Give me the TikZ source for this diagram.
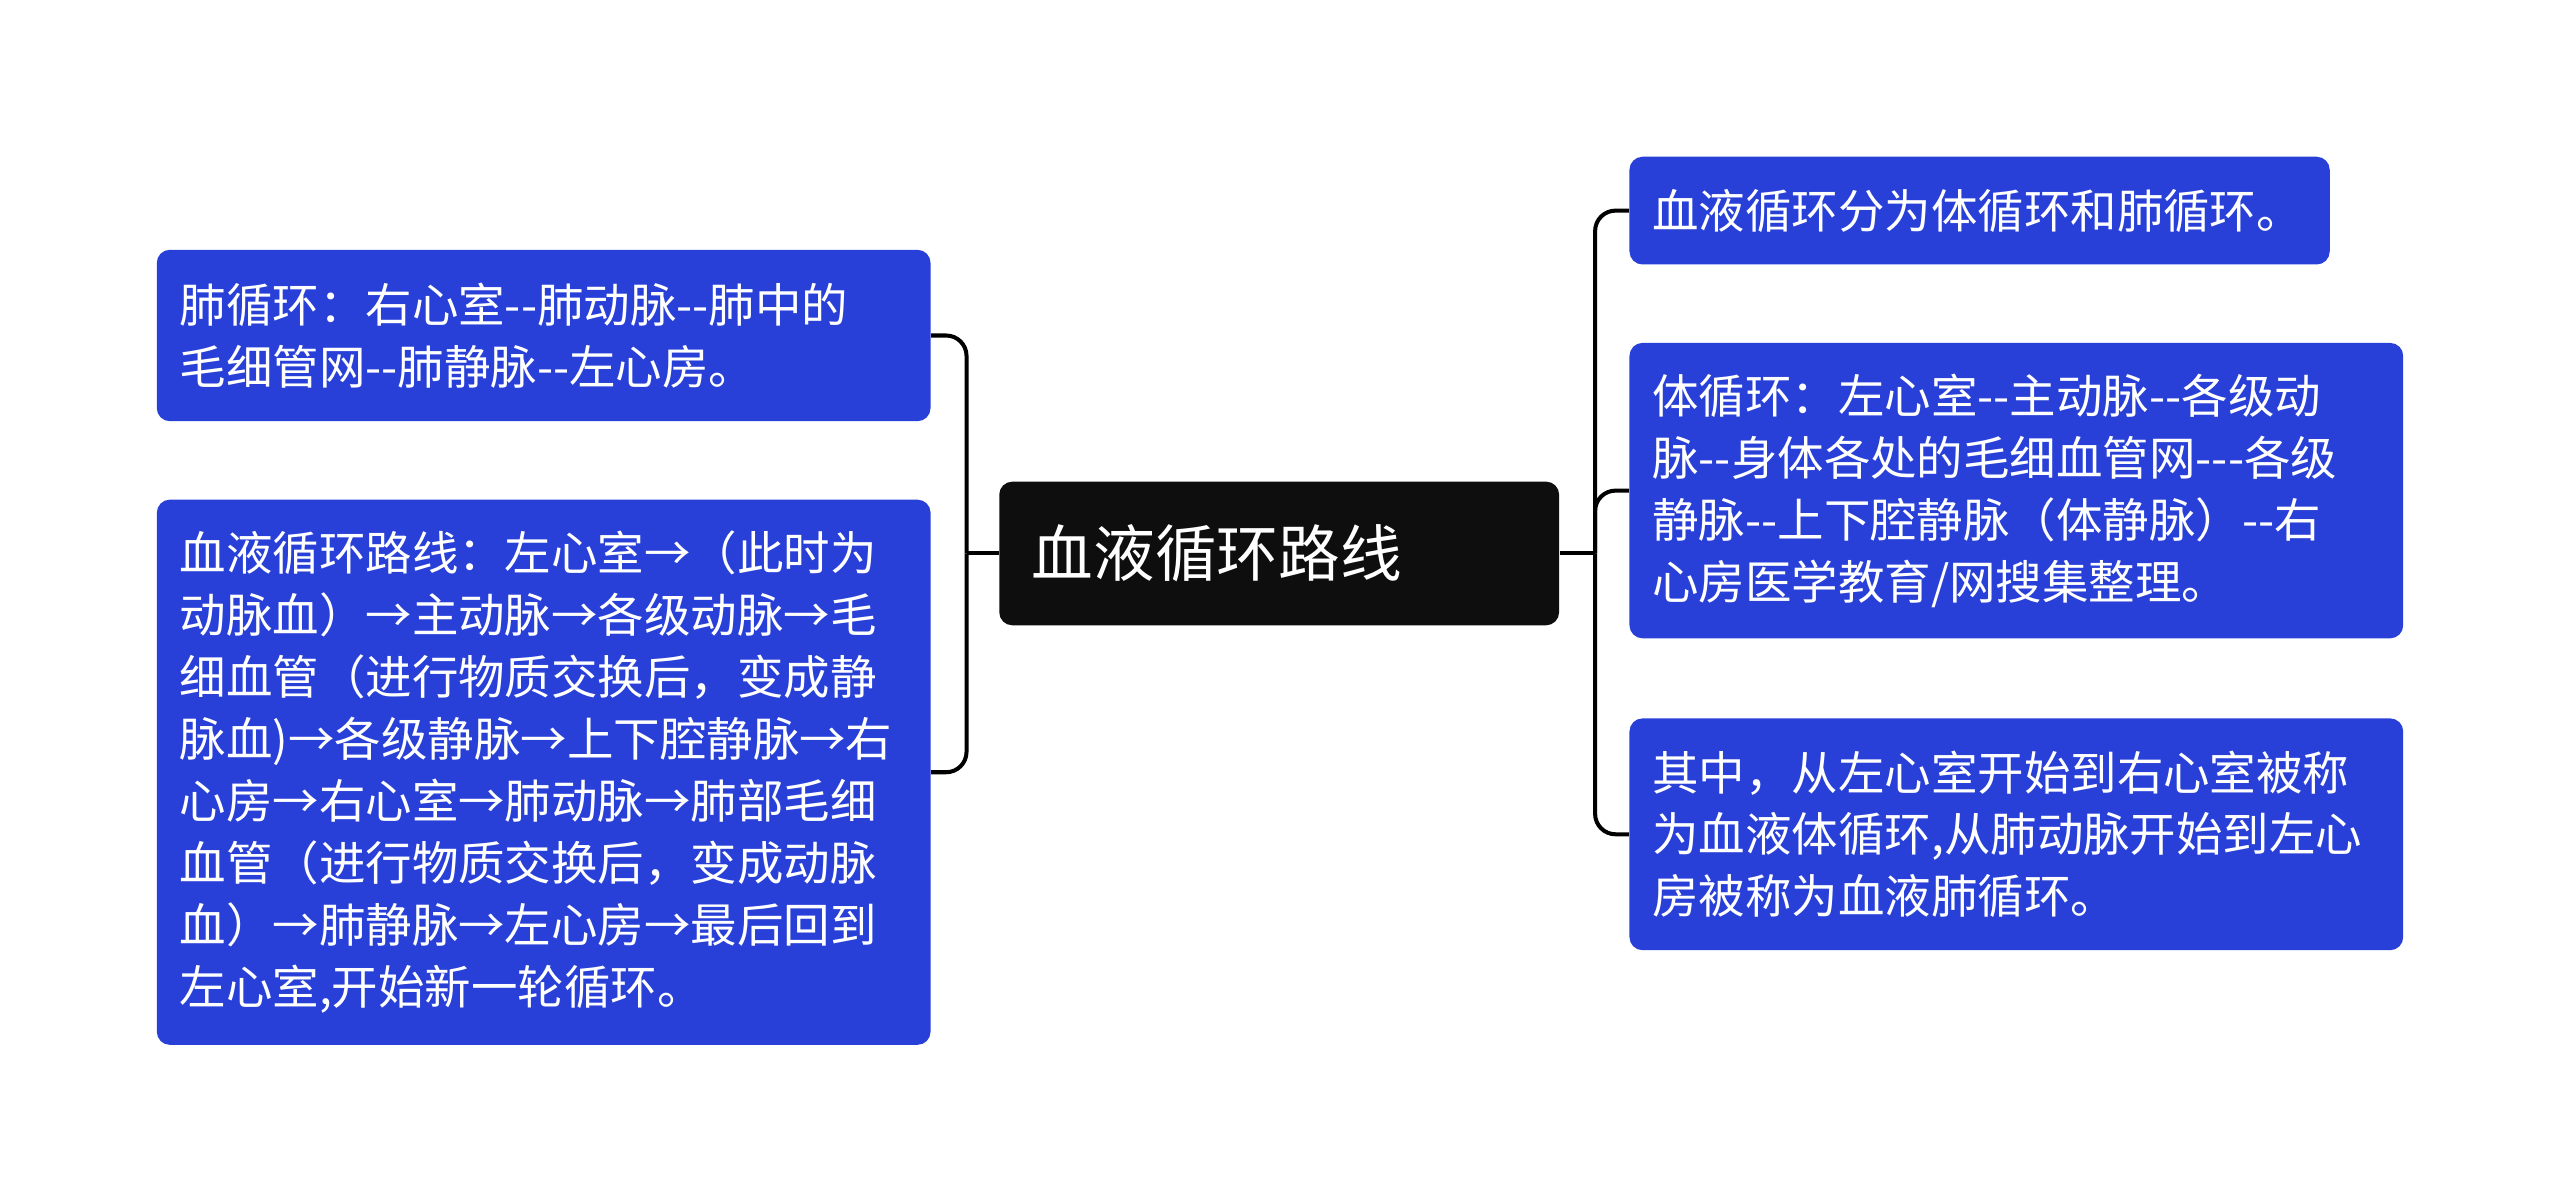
\documentclass[tikz,border=0pt]{standalone}
\usepackage{fontspec}
\setmainfont{Noto Sans CJK SC}
\definecolor{bluebox}{RGB}{40,64,216}
\definecolor{darkbox}{RGB}{14,14,14}
\newcommand{\dd}{-{}-}
\tikzset{
  leaf/.style={fill=bluebox,rounded corners=0.16cm,text=white,align=left,inner sep=0pt,
    font=\fontsize{16.2}{21.6}\selectfont},
  rootbox/.style={fill=darkbox,rounded corners=0.16cm,text=white,align=left,inner sep=0pt,
    font=\fontsize{21.5}{26}\selectfont},
  conn/.style={line width=1.4pt,rounded corners=0.25cm}
}
\begin{document}
\begin{tikzpicture}[x=0.02cm,y=-0.02cm]
\useasboundingbox (0,0) rectangle (1568,736);
\node[rootbox,minimum width=6.86cm,minimum height=1.76cm,text width=6.06cm] (c) at (783.5,339) {血液循环路线};
\node[leaf,minimum width=9.48cm,minimum height=2.1cm,text width=8.92cm] (l1) at (333,205.5)
 {肺循环：右心室\dd 肺动脉\dd 肺中的\\毛细管网\dd 肺静脉\dd 左心房。};
\node[leaf,minimum width=9.48cm,minimum height=6.68cm,text width=8.92cm] (l2) at (333,473)
 {血液循环路线：左心室→（此时为\\动脉血）→主动脉→各级动脉→毛\\细血管（进行物质交换后，变成静\\脉血)→各级静脉→上下腔静脉→右\\心房→右心室→肺动脉→肺部毛细\\血管（进行物质交换后，变成动脉\\血）→肺静脉→左心房→最后回到\\左心室,开始新一轮循环。};
\node[leaf,minimum width=8.58cm,minimum height=1.32cm,text width=8.02cm] (r1) at (1212.5,129)
 {血液循环分为体循环和肺循环。};
\node[leaf,minimum width=9.48cm,minimum height=3.62cm,text width=8.92cm] (r2) at (1235,300.5)
 {体循环：左心室\dd 主动脉\dd 各级动\\脉\dd 身体各处的毛细血管网-{}-{}-各级\\静脉\dd 上下腔静脉（体静脉）\dd 右\\心房医学教育/网搜集整理。};
\node[leaf,minimum width=9.48cm,minimum height=2.84cm,text width=8.92cm] (r3) at (1235,511)
 {其中，从左心室开始到右心室被称\\为血液体循环,从肺动脉开始到左心\\房被称为血液肺循环。};
\coordinate (jl) at (592,339);
\coordinate (jr) at (977,339);
\draw[conn] (c.west) -- (jl);
\draw[conn] (jl) |- (l1.east);
\draw[conn] (jl) |- (l2.east);
\draw[conn] (c.east) -- (jr);
\draw[conn] (jr) |- (r1.west);
\draw[conn] (jr) |- (r2.west);
\draw[conn] (jr) |- (r3.west);
\end{tikzpicture}
\end{document}
